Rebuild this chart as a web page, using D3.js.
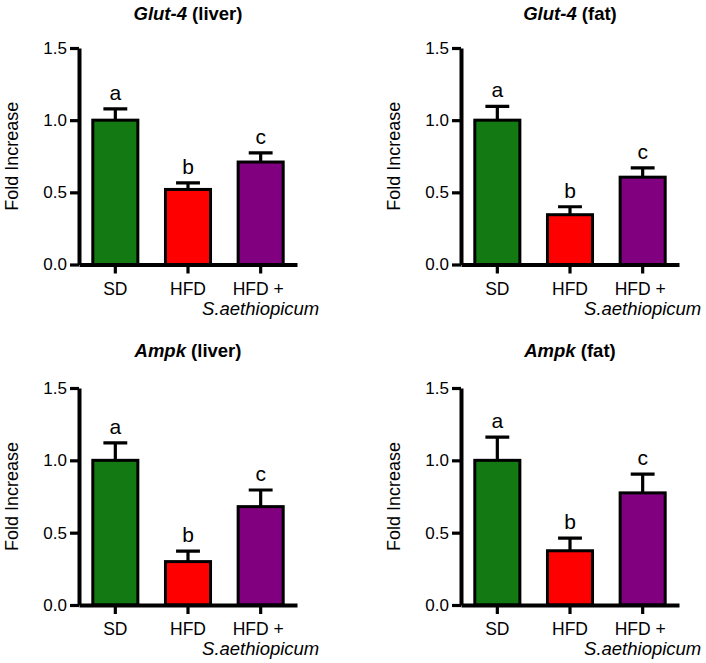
<!DOCTYPE html>
<html>
<head>
<meta charset="utf-8">
<script src="https://cdn.jsdelivr.net/npm/d3@7"></script>
<style>
  body { margin: 0; background: #fff; }
  text { font-family: "Liberation Sans", Arial, sans-serif; fill: #000; }
</style>
</head>
<body>
<svg id="chart"></svg>
<script>
// groups on the x axis (second line of the last label is in italics)
var groups = ["SD", "HFD", "HFD + S.aethiopicum"];
var groupLine1 = ["SD", "HFD", "HFD +\u00a0"];
var groupLine2 = ["", "", "S.aethiopicum"];
var barColors = ["#137a13", "#ff0000", "#800080"];
var letters = ["a", "b", "c"];

// panel titles
var genes = ["Glut-4", "Glut-4", "Ampk", "Ampk"];
var tissues = ["liver", "fat", "liver", "fat"];

// fold increase (mean) and error bar (SEM) per panel
var glut4Liver = [1.0, 0.52, 0.71];
var glut4LiverErr = [0.078, 0.045, 0.064];
var glut4Fat = [1.0, 0.345, 0.605];
var glut4FatErr = [0.095, 0.055, 0.065];
var ampkLiver = [1.0, 0.30, 0.68];
var ampkLiverErr = [0.12, 0.073, 0.115];
var ampkFat = [1.0, 0.375, 0.775];
var ampkFatErr = [0.16, 0.087, 0.13];

var yTicks = [0, 0.5, 1.0, 1.5];

var means = [glut4Liver, glut4Fat, ampkLiver, ampkFat];
var errs = [glut4LiverErr, glut4FatErr, ampkLiverErr, ampkFatErr];

var settings = {
    width: 706,
    height: 663,
    colX: [79, 461],     // x of the y axis in each column
    plotW: 218,
    rowTop: [48, 388],   // y of 1.5
    rowBottom: [264.5, 605] // y of 0.0
};

var svg = d3.select("#chart")
    .attr("width", settings.width)
    .attr("height", settings.height);

means.forEach(function(vals, i) {
    var col = i % 2, row = Math.floor(i / 2);
    var x0 = settings.colX[col];
    var yTop = settings.rowTop[row], yBot = settings.rowBottom[row];

    var x = d3.scaleBand()
        .domain(groups)
        .range([x0, x0 + settings.plotW])
        .paddingInner(0.38)
        .paddingOuter(0.19);

    var y = d3.scaleLinear()
        .domain([0, 1.5])
        .range([yBot, yTop]);

    var g = svg.append("g");

    var rows = groups.map(function(name, j) {
        return { name: name, mean: vals[j], err: errs[i][j], color: barColors[j], letter: letters[j] };
    });

    // bars
    g.selectAll(".bar")
        .data(rows)
        .join("rect")
        .attr("class", "bar")
        .attr("x", d => x(d.name))
        .attr("y", d => y(d.mean))
        .attr("width", x.bandwidth())
        .attr("height", d => y(0) - y(d.mean))
        .attr("fill", d => d.color)
        .attr("stroke", "#000")
        .attr("stroke-width", 3);

    // error bars (upper only)
    var capW = x.bandwidth() * 0.53;
    g.selectAll(".err")
        .data(rows)
        .join("path")
        .attr("class", "err")
        .attr("fill", "none")
        .attr("stroke", "#000")
        .attr("stroke-width", 3.2)
        .attr("d", d => {
            var cx = x(d.name) + x.bandwidth() / 2;
            return "M" + cx + "," + y(d.mean) + "V" + y(d.mean + d.err) +
                "M" + (cx - capW / 2) + "," + y(d.mean + d.err) + "H" + (cx + capW / 2);
        });

    // significance letters
    g.selectAll(".letter")
        .data(rows)
        .join("text")
        .attr("class", "letter")
        .attr("x", d => x(d.name) + x.bandwidth() / 2)
        .attr("y", d => y(d.mean + d.err) - 9)
        .attr("text-anchor", "middle")
        .style("font-size", "21px")
        .text(d => d.letter);

    // y axis
    var yAxis = g.append("g")
        .attr("transform", "translate(" + x0 + ",0)")
        .call(d3.axisLeft(y).tickValues(yTicks).tickFormat(d3.format(".1f"))
            .tickSize(9).tickSizeOuter(0).tickPadding(3));
    yAxis.select(".domain").attr("stroke-width", 4);
    yAxis.selectAll(".tick line").attr("stroke-width", 3.2);
    yAxis.selectAll(".tick text").style("font-size", "17px");

    // x axis
    var xAxis = g.append("g")
        .attr("transform", "translate(0," + yBot + ")")
        .call(d3.axisBottom(x).tickSize(9).tickSizeOuter(0).tickFormat(""));
    xAxis.select(".domain").attr("stroke-width", 4);
    xAxis.selectAll(".tick line").attr("stroke-width", 3.2);

    // x labels on two lines
    g.selectAll(".xl1")
        .data(rows)
        .join("text")
        .attr("class", "xl1")
        .attr("x", d => x(d.name) + x.bandwidth() / 2)
        .attr("y", yBot + 30)
        .attr("text-anchor", "middle")
        .style("font-size", "17.5px")
        .text((d, j) => groupLine1[j]);

    g.selectAll(".xl2")
        .data(rows)
        .join("text")
        .attr("class", "xl2")
        .attr("x", d => x(d.name) + x.bandwidth() / 2)
        .attr("y", yBot + 50)
        .attr("text-anchor", "middle")
        .style("font-size", "18.5px")
        .style("font-style", "italic")
        .text((d, j) => groupLine2[j]);

    // y axis title
    g.append("text")
        .attr("transform", "translate(" + (x0 - 61) + "," + ((yTop + yBot) / 2) + ") rotate(-90)")
        .attr("text-anchor", "middle")
        .style("font-size", "18px")
        .text("Fold Increase");

    // panel title
    var title = g.append("text")
        .attr("x", x0 + settings.plotW / 2)
        .attr("y", yTop - (row === 0 ? 28 : 31))
        .attr("text-anchor", "middle")
        .style("font-size", "18.5px")
        .style("font-weight", "bold");
    title.append("tspan").style("font-style", "italic").text(genes[i]);
    title.append("tspan").text(" (" + tissues[i] + ")");
});
</script>
</body>
</html>
